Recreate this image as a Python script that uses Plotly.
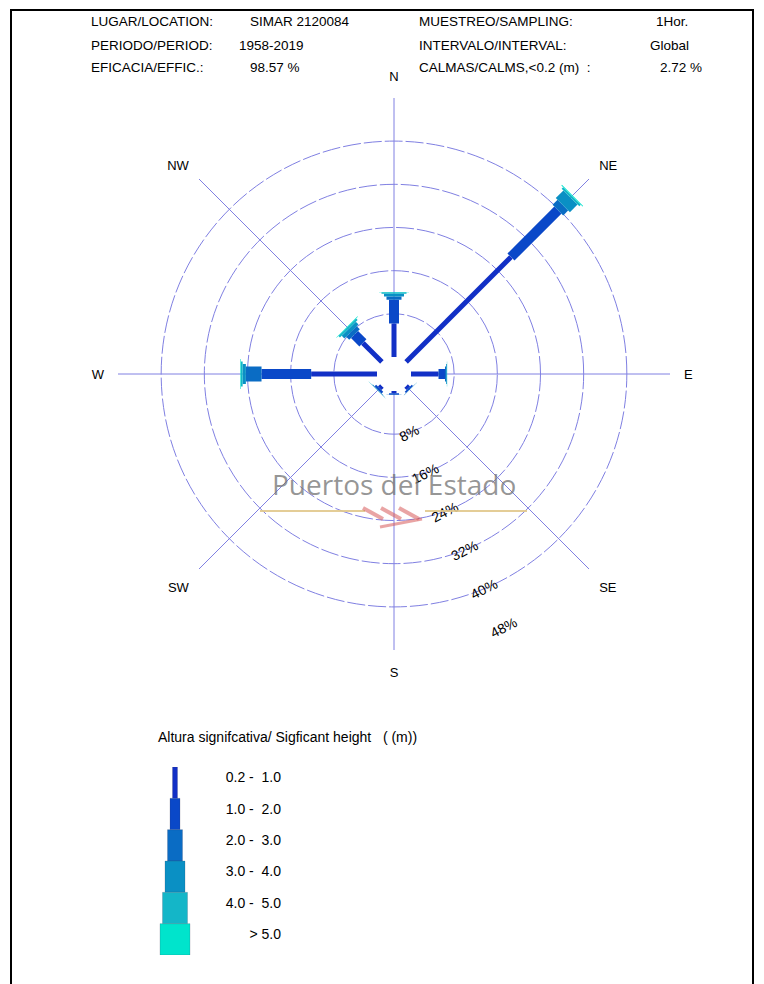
import plotly.graph_objects as go

# ---- data -------------------------------------------------------------
directions = ["N", "NE", "E", "SE", "S", "SW", "W", "NW"]
bearings = [0, 45, 90, 135, 180, 225, 270, 315]

classes = ["0.2 -  1.0", "1.0 -  2.0", "2.0 -  3.0", "3.0 -  4.0", "4.0 -  5.0", "> 5.0"]

# frequency (%) per direction for each significant-height class
h_02_10 = [6.2, 27.5, 5.1, 0.6, 0.4, 0.6, 12.2, 5.0]
h_10_20 = [4.4, 12.3, 1.2, 0.3, 0.3, 0.4, 9.2, 2.2]
h_20_30 = [0.6, 1.3, 0.2, 0.05, 0.02, 0.1, 2.9, 0.8]
h_30_40 = [0.5, 2.0, 0.15, 0.02, 0.0, 0.05, 0.6, 0.7]
h_40_50 = [0.3, 0.4, 0.05, 0.0, 0.0, 0.02, 0.35, 0.4]
h_gt_50 = [0.05, 0.15, 0.0, 0.0, 0.0, 0.0, 0.1, 0.1]

series = [h_02_10, h_10_20, h_20_30, h_30_40, h_40_50, h_gt_50]

ring_vals = [0, 8, 16, 24, 32, 40, 48]
ring_text = ["", "8%", "16%", "24%", "32%", "40%", "48%"]

header_left = [("LUGAR/LOCATION:", "SIMAR 2120084"),
               ("PERIODO/PERIOD:", "1958-2019"),
               ("EFICACIA/EFFIC.:", "98.57 %")]
header_right = [("MUESTREO/SAMPLING:", "1Hor."),
                ("INTERVALO/INTERVAL:", "Global"),
                ("CALMAS/CALMS,<0.2 (m)  :", "2.72 %")]

# ---- styling ----------------------------------------------------------
colors = ["#1230c6", "#0a48c8", "#0a6cc4", "#0a90c4", "#14b6c8", "#00e4cc"]
widths = [5, 10, 15, 20, 25, 30]
grid_col = "#8080e2"
clear = "rgba(0,0,0,0)"
FONT = "Liberation Sans, Arial, sans-serif"

W, H = 764, 984


def px(x):
    return x / W


def py(y):
    return 1 - y / H


cx, cy, R = 394, 374, 276
r_max = ring_vals[-1]

fig = go.Figure()

# direction spokes, from the calm circle out to the outer ring
sr, st = [], []
for b in bearings:
    sr += [0, r_max, None]
    st += [b, b, None]
fig.add_trace(go.Scatterpolar(
    r=sr, theta=st, mode="lines", connectgaps=False,
    line=dict(color=grid_col, width=1), hoverinfo="skip", showlegend=False))

# stacked rose arms: each class is a radial segment on top of the previous ones
cum = [0.0] * len(directions)
for k, vals in enumerate(series):
    rr, tt = [], []
    for j, v in enumerate(vals):
        if v > 0:
            rr += [cum[j], cum[j] + v, None]
            tt += [bearings[j], bearings[j], None]
        cum[j] += v
    fig.add_trace(go.Scatterpolar(
        r=rr, theta=tt, mode="lines", connectgaps=False,
        line=dict(color=colors[k], width=widths[k]),
        hoverinfo="skip", showlegend=False))

fig.update_layout(
    polar=dict(
        domain=dict(x=[px(cx - R), px(cx + R)], y=[py(cy + R), py(cy - R)]),
        hole=17 / R,
        bgcolor="white",
        radialaxis=dict(
            range=[0, r_max], tickvals=ring_vals, ticktext=ring_text,
            angle=-63, tickangle=-90, showline=False, linecolor=clear, linewidth=0,
            ticks="", tickcolor=clear, layer="below traces",
            gridcolor=grid_col, gridwidth=1, griddash="18px,3px",
            tickfont=dict(family=FONT, size=14, color="black"),
        ),
        angularaxis=dict(
            direction="clockwise", rotation=90,
            tickvals=bearings, ticktext=directions,
            showline=False, linecolor=clear, showgrid=False, layer="below traces",
            ticks="outside", ticklen=11, tickcolor=clear,
            tickfont=dict(family=FONT, size=13, color="black"),
        ),
    ),
    dragmode=False,
)

# ---- legend drawn as a stacked column of class boxes -----------------
n = len(classes)
for k in range(n):
    fig.add_trace(go.Bar(
        x=[0], y=[1], base=[n - 1 - k], width=[widths[k]],
        marker=dict(color=colors[k], line=dict(color="rgba(60,60,90,0.35)", width=0.6)),
        xaxis="x", yaxis="y", hoverinfo="skip", showlegend=False))
fig.add_trace(go.Scatter(
    x=[106] * n, y=[n - 1 - k + 0.62 for k in range(n)], text=classes,
    mode="text", textposition="middle left",
    textfont=dict(family=FONT, size=14, color="black"),
    xaxis="x", yaxis="y", hoverinfo="skip", showlegend=False, cliponaxis=False))

fig.update_layout(
    xaxis=dict(domain=[px(140), px(300)], range=[-35, 125], visible=False,
               zeroline=False, showgrid=False, fixedrange=True),
    yaxis=dict(domain=[py(955), py(767)], range=[0, n], visible=False,
               zeroline=False, showgrid=False, fixedrange=True),
    barmode="overlay", bargap=0,
)

# ---- header and legend title -----------------------------------------
ann = []
for i, (lab, val) in enumerate(header_left):
    y = py(22 + 23 * i)
    ann.append(dict(x=px(89), y=y, text=lab, xanchor="left"))
    ann.append(dict(x=px([248, 237, 248][i]), y=y, text=val, xanchor="left"))
for i, (lab, val) in enumerate(header_right):
    y = py(22 + 23 * i)
    ann.append(dict(x=px(417), y=y, text=lab, xanchor="left"))
    ann.append(dict(x=px([690, 691, 704][i]), y=y, text=val, xanchor="right"))
for a in ann:
    a.update(font=dict(family=FONT, size=13.5, color="black"))
ann.append(dict(x=px(156), y=py(737), text="Altura signifcativa/ Sigficant height   ( (m))",
                xanchor="left", font=dict(family=FONT, size=14, color="black")))
for a in ann:
    a.update(xref="paper", yref="paper", yanchor="middle", showarrow=False)

# watermark
ann.append(dict(x=px(394), y=py(484), xref="paper", yref="paper", showarrow=False,
                text="Puertos del Estado", xanchor="center", yanchor="middle",
                font=dict(family="Open Sans, Noto Sans, sans-serif", size=28,
                          color="rgba(115,115,115,0.75)")))

shapes = [
    # page frame
    dict(type="rect", xref="paper", yref="paper", x0=px(11), x1=px(753), y0=py(995), y1=py(10),
         line=dict(color="black", width=2)),
    # watermark rule
    dict(type="line", xref="paper", yref="paper", x0=px(260), x1=px(365), y0=py(511), y1=py(511),
         line=dict(color="rgba(225,200,140,0.9)", width=2)),
    dict(type="line", xref="paper", yref="paper", x0=px(425), x1=px(527), y0=py(511), y1=py(511),
         line=dict(color="rgba(225,200,140,0.9)", width=2)),
]
# watermark logo strokes
for i in range(3):
    x0 = 363 + 18 * i
    shapes.append(dict(type="line", xref="paper", yref="paper",
                       x0=px(x0), y0=py(508), x1=px(x0 + 20), y1=py(519),
                       line=dict(color="rgba(215,90,90,0.55)", width=4)))
shapes.append(dict(type="line", xref="paper", yref="paper",
                   x0=px(380), y0=py(527), x1=px(422), y1=py(519),
                   line=dict(color="rgba(215,90,90,0.55)", width=3)))

fig.update_layout(
    annotations=ann, shapes=shapes,
    width=W, height=H, margin=dict(l=0, r=0, t=0, b=0),
    paper_bgcolor="white", plot_bgcolor="white",
)

fig.write_html("out.html", config={"staticPlot": True})
